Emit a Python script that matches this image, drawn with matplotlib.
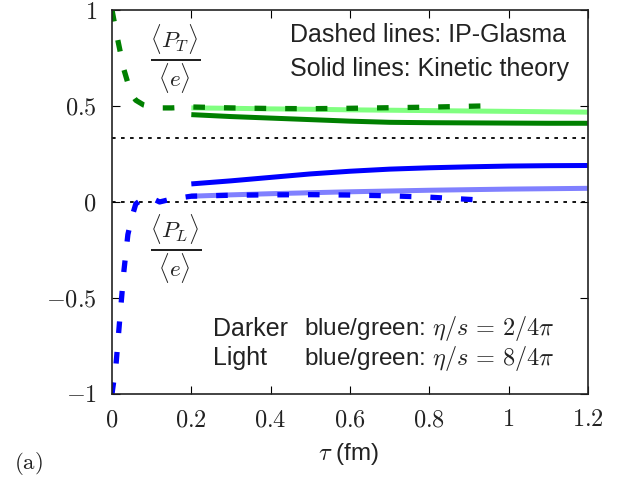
import matplotlib
matplotlib.use("Agg")
import matplotlib.pyplot as plt

plt.rcParams['font.family'] = ['Liberation Sans', 'DejaVu Sans']
plt.rcParams['mathtext.fontset'] = 'cm'

# IP-Glasma (dashed)
tau_glasma = [0.0, 0.01, 0.02, 0.03, 0.04, 0.05, 0.06, 0.08, 0.1, 0.12, 0.15, 0.2,
              0.3, 0.4, 0.5, 0.6, 0.7, 0.8, 0.93]
pt_glasma = [1.0, 0.89, 0.79, 0.69, 0.62, 0.56, 0.53, 0.505, 0.495, 0.49, 0.49, 0.495,
             0.49, 0.487, 0.486, 0.488, 0.491, 0.494, 0.5]
pl_glasma = [-1.0, -0.85, -0.6, -0.36, -0.17, -0.08, -0.01, 0.02, 0.02, 0.0, 0.015, 0.03,
             0.035, 0.037, 0.038, 0.036, 0.032, 0.025, 0.01]

# kinetic theory (solid)
tau_kin = [0.2, 0.3, 0.4, 0.5, 0.6, 0.7, 0.8, 0.9, 1.0, 1.1, 1.2]
pt_dark = [0.455, 0.445, 0.437, 0.429, 0.421, 0.415, 0.413, 0.412, 0.411, 0.41, 0.41]
pt_light = [0.49, 0.488, 0.485, 0.483, 0.48, 0.478, 0.476, 0.474, 0.472, 0.47, 0.468]
pl_dark = [0.094, 0.11, 0.128, 0.146, 0.16, 0.171, 0.178, 0.183, 0.187, 0.189, 0.19]
pl_light = [0.03, 0.037, 0.043, 0.048, 0.053, 0.057, 0.061, 0.064, 0.067, 0.069, 0.071]

xticks = [0, 0.2, 0.4, 0.6, 0.8, 1, 1.2]
xticklabels = ['$0$', '$0.2$', '$0.4$', '$0.6$', '$0.8$', '$1$', '$1.2$']
yticks = [-1, -0.5, 0, 0.5, 1]
yticklabels = ['$-1$', '$-0.5$', '$0$', '$0.5$', '$1$']

fig = plt.figure(figsize=(6.24, 4.78), dpi=100)
ax = fig.add_axes([0.1795, 0.176, 0.7625, 0.803])

# reference lines
ax.axhline(1/3, color='black', lw=1.3, ls=(0, (2, 3)))
ax.axhline(0, color='black', lw=1.3, ls=(0, (2, 3)))

ax.plot(tau_kin, pt_light, color='#80ff80', lw=3.6, solid_capstyle='butt')
ax.plot(tau_kin, pl_light, color='#8080ff', lw=3.6, solid_capstyle='butt')
ax.plot(tau_kin, pt_dark, color='#008000', lw=3.6, solid_capstyle='butt')
ax.plot(tau_kin, pl_dark, color='#0000ff', lw=3.6, solid_capstyle='butt')
ax.plot(tau_glasma, pt_glasma, color='#008000', lw=3.8, ls=(0, (2.2, 3.6)))
ax.plot(tau_glasma, pl_glasma, color='#0000ff', lw=3.8, ls=(0, (2.2, 3.6)))

ax.set_xlim(0, 1.2)
ax.set_ylim(-1, 1)
ax.set_xticks(xticks)
ax.set_xticklabels(xticklabels)
ax.set_yticks(yticks)
ax.set_yticklabels(yticklabels)
ax.tick_params(direction='in', length=6, width=0.8, labelsize=17.5, top=True, right=True,
               labelcolor='#222222')
ax.tick_params(axis='x', pad=11)
ax.tick_params(axis='y', pad=11)
for s in ax.spines.values():
    s.set_linewidth(1.2)
    s.set_color('#222222')

txt = '#222222'
ax.text(0.16, 0.74, r'$\frac{\langle P_T\rangle}{\langle e\rangle}$', fontsize=24,
        ha='center', va='center', color=txt)
ax.text(0.16, -0.25, r'$\frac{\langle P_L\rangle}{\langle e\rangle}$', fontsize=24,
        ha='center', va='center', color=txt)
ax.text(0.45, 0.87, 'Dashed lines: IP-Glasma', fontsize=18, va='center', color=txt)
ax.text(0.45, 0.695, 'Solid lines: Kinetic theory', fontsize=18, va='center', color=txt)
ax.text(0.255, -0.66, 'Darker', fontsize=18, va='center', color=txt)
ax.text(0.484, -0.66, r'blue/green: $\eta/s\,=\,2/4\pi$', fontsize=17.5, va='center', color=txt)
ax.text(0.255, -0.815, 'Light', fontsize=18, va='center', color=txt)
ax.text(0.484, -0.815, r'blue/green: $\eta/s\,=\,8/4\pi$', fontsize=17.5, va='center', color=txt)

fig.text(0.558, 0.05, r'$\tau$ (fm)', fontsize=17.5, ha='center', va='center', color=txt)
fig.text(0.046, 0.031, r'$(\mathrm{a})$', fontsize=16.5, ha='center', va='center', color=txt)

fig.savefig('out.png', dpi=100)
